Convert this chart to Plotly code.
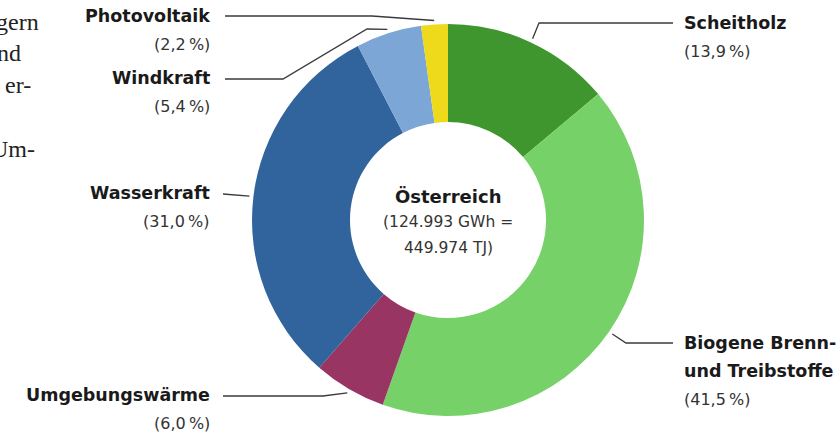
import math
import plotly.graph_objects as go

# data
segments = ["Scheitholz", "Biogene Brenn- und Treibstoffe", "Umgebungswärme",
            "Wasserkraft", "Windkraft", "Photovoltaik"]
label_lines = [["Scheitholz"], ["Biogene Brenn-", "und Treibstoffe"], ["Umgebungswärme"],
               ["Wasserkraft"], ["Windkraft"], ["Photovoltaik"]]
shares = [13.9, 41.5, 6.0, 31.0, 5.4, 2.2]
colors = ["#3f962e", "#77d169", "#983563", "#31649c", "#7ba6d6", "#eed91b"]
center_title = "Österreich"
center_lines = ["(124.993 GWh =", "449.974 TJ)"]
# cut-off body text on the left edge
body_lines = ["gern", "nd", "er-", "Um-"]

# layout (pixels)
W, H = 836, 435
CX, CY, R = 448, 220, 196
LEADER_R = 200
LINE_STEP = 28
FONT = "DejaVu Sans"
label_pos = [
    dict(x=682, y=23, anchor="left", path=[(539, 23), (673, 23)]),
    dict(x=682, y=343, anchor="left", path=[(626, 343), (673, 343)]),
    dict(x=212, y=395, anchor="right", path=[(323, 396), (223, 396)]),
    dict(x=212, y=193, anchor="right", path=[(223, 194)]),
    dict(x=212, y=78, anchor="right", path=[(367, 29), (283, 79), (225, 79)]),
    dict(x=212, y=16, anchor="right", path=[(372, 16), (225, 16)]),
]
body_pos = [(41, 22), (23, 53), (33, 85), (37, 149)]

fig = go.Figure()
fig.add_trace(go.Pie(
    labels=segments, values=shares, sort=False, direction="clockwise", rotation=0,
    hole=0.5, marker=dict(colors=colors, line=dict(width=0)),
    textinfo="none", hoverinfo="label+percent", showlegend=False,
    domain=dict(x=[(CX - R) / W, (CX + R) / W], y=[(H - CY - R) / H, (H - CY + R) / H]),
))

# leader lines start at the middle of each slice
xs, ys = [], []
cum = 0
total = sum(shares)
for v, pos in zip(shares, label_pos):
    a = 2 * math.pi * (cum + v / 2) / total
    cum += v
    pts = [(CX + LEADER_R * math.sin(a), CY - LEADER_R * math.cos(a))] + pos["path"]
    xs += [p[0] for p in pts] + [None]
    ys += [p[1] for p in pts] + [None]
fig.add_trace(go.Scatter(x=xs, y=ys, mode="lines", line=dict(color="#3a3a3a", width=1.3),
                         hoverinfo="skip", showlegend=False))

annotations = []
for lines, v, pos in zip(label_lines, shares, label_pos):
    y = pos["y"]
    for ln in lines:
        annotations.append(dict(x=pos["x"], y=y, text="<b>" + ln + "</b>", xanchor=pos["anchor"],
                                font=dict(size=17.5, color="#1a1a1a", family=FONT)))
        y += LINE_STEP
    pct = ("(%.1f\u202f%%)" % v).replace(".", ",")
    annotations.append(dict(x=pos["x"], y=y, text=pct, xanchor=pos["anchor"],
                            font=dict(size=16, color="#333333", family=FONT)))

annotations.append(dict(x=CX, y=CY - 24, text="<b>" + center_title + "</b>",
                        font=dict(size=18, color="#1a1a1a", family=FONT)))
for i, ln in enumerate(center_lines):
    annotations.append(dict(x=CX, y=CY + 2 + i * 26, text=ln,
                            font=dict(size=15.5, color="#333333", family=FONT)))

for txt, (x, y) in zip(body_lines, body_pos):
    annotations.append(dict(x=x, y=y, text=txt, xanchor="right",
                            font=dict(size=24, color="#222222", family="Liberation Serif")))

for a in annotations:
    a.update(xref="x", yref="y", showarrow=False, yanchor="middle")

fig.update_layout(
    width=W, height=H, margin=dict(l=0, r=0, t=0, b=0),
    paper_bgcolor="#ffffff", plot_bgcolor="rgba(0,0,0,0)",
    xaxis=dict(range=[0, W], visible=False, fixedrange=True),
    yaxis=dict(range=[H, 0], visible=False, fixedrange=True),
    annotations=annotations, showlegend=False,
)

fig.write_html("out.html", config={"displayModeBar": False},
               post_script="document.body.style.margin='0';")
